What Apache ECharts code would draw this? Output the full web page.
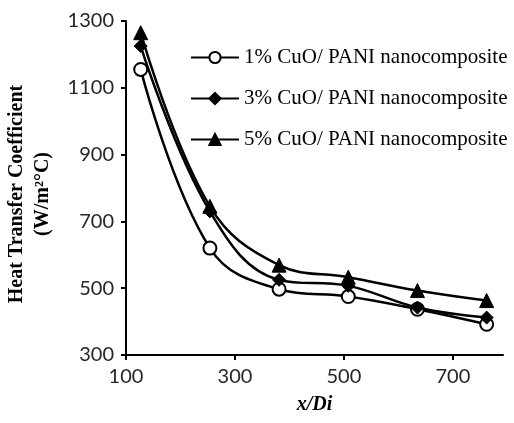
<!DOCTYPE html>
<html>
<head>
<meta charset="utf-8">
<script src="https://cdn.jsdelivr.net/npm/echarts@6/dist/echarts.min.js"></script>
<style>
html,body{margin:0;padding:0;background:#fff;}
#chart{width:514px;height:423px;}
</style>
</head>
<body>
<div id="chart"></div>
<script>
// Data
var xValues = [127, 254, 381, 508, 635, 762];
var cuo1 = [1155, 620, 497, 475, 437, 392];
var cuo3 = [1225, 730, 525, 507, 442, 412];
var cuo5 = [1265, 745, 569, 533, 493, 463];
var seriesNames = ['1% CuO/ PANI nanocomposite', '3% CuO/ PANI nanocomposite', '5% CuO/ PANI nanocomposite'];
var xTicks = [100, 300, 500, 700];
var yTicks = [300, 500, 700, 900, 1100, 1300];

function pairs(ys) { return xValues.map(function (x, i) { return [x, ys[i]]; }); }

var chart = echarts.init(document.getElementById('chart'), null, { renderer: 'canvas' });
var labelFont = 'Lato, "Open Sans", sans-serif';
var serif = '"Liberation Serif", "DejaVu Serif", serif';

chart.setOption({
  animation: false,
  backgroundColor: '#fff',
  grid: { left: 126, right: 11, top: 21, bottom: 68, containLabel: false, outerBoundsMode: 'none' },
  legend: {
    orient: 'vertical',
    left: 185,
    top: 42,
    itemWidth: 48,
    itemHeight: 14,
    itemGap: 20,
    data: seriesNames,
    textStyle: { fontFamily: serif, fontSize: 21, color: '#000' }
  },
  xAxis: {
    type: 'value',
    min: 100,
    max: 792,
    interval: 200,
    name: 'x/Di',
    nameLocation: 'middle',
    nameGap: 40,
    nameTextStyle: { fontFamily: serif, fontSize: 20, fontWeight: 'bold', fontStyle: 'italic', color: '#000' },
    axisLine: { lineStyle: { color: '#000', width: 2 } },
    axisTick: { show: true, length: 5, lineStyle: { color: '#000', width: 2 }, customValues: xTicks },
    axisLabel: { fontFamily: labelFont, fontSize: 20, color: '#262626', margin: 12, customValues: xTicks,
      formatter: function (v) { return String(v); } },
    splitLine: { show: false }
  },
  yAxis: {
    type: 'value',
    min: 300,
    max: 1300,
    interval: 200,
    axisLine: { show: true, lineStyle: { color: '#000', width: 2 } },
    axisTick: { show: true, length: 5, lineStyle: { color: '#000', width: 2 }, customValues: yTicks },
    axisLabel: { fontFamily: labelFont, fontSize: 20, color: '#262626', margin: 12, customValues: yTicks,
      formatter: function (v) { return String(v); } },
    splitLine: { show: false }
  },
  graphic: [{
    type: 'text',
    x: 30,
    y: 194,
    rotation: Math.PI / 2,
    style: {
      text: 'Heat Transfer Coefficient\n(W/m\u00B2\u00B0C)',
      fontFamily: serif,
      fontSize: 20,
      fontWeight: 'bold',
      lineHeight: 26,
      fill: '#000',
      align: 'center',
      verticalAlign: 'middle'
    }
  }],
  series: [
    {
      name: seriesNames[0], type: 'line', data: pairs(cuo1), smooth: 0.4,
      symbol: 'circle', symbolSize: 13, showAllSymbol: true,
      lineStyle: { color: '#000', width: 2.5 },
      itemStyle: { color: '#fff', borderColor: '#000', borderWidth: 2 }, z: 3
    },
    {
      name: seriesNames[1], type: 'line', data: pairs(cuo3), smooth: 0.4,
      symbol: 'diamond', symbolSize: 13,
      lineStyle: { color: '#000', width: 2.5 },
      itemStyle: { color: '#000', borderColor: '#000', borderWidth: 1 }, z: 4
    },
    {
      name: seriesNames[2], type: 'line', data: pairs(cuo5), smooth: 0.4,
      symbol: 'triangle', symbolSize: 14,
      lineStyle: { color: '#000', width: 2.5 },
      itemStyle: { color: '#000', borderColor: '#000', borderWidth: 1 }, z: 5
    }
  ]
});
</script>
</body>
</html>
